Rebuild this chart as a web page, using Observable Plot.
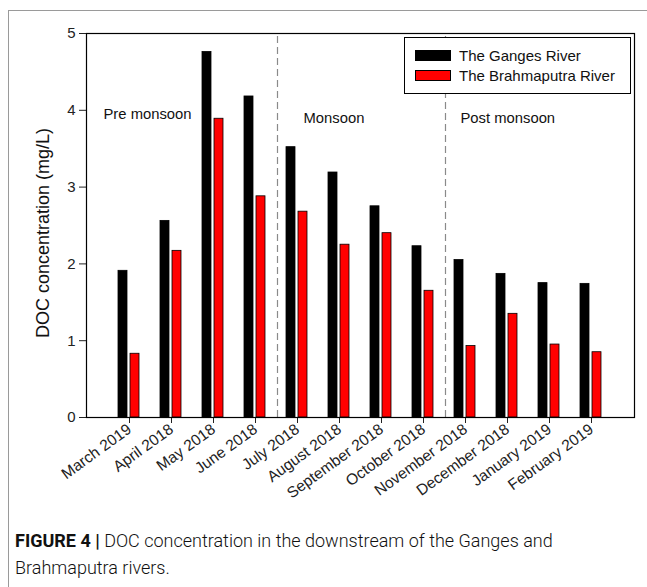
<!DOCTYPE html>
<html>
<head>
<meta charset="utf-8">
<script src="https://cdn.jsdelivr.net/npm/d3@7"></script>
<script src="https://cdn.jsdelivr.net/npm/@observablehq/plot@0.6"></script>
<style>
  body { margin: 0; background: #fff; }
  #fig { position: relative; width: 647px; height: 587px; overflow: hidden; font-family: "Liberation Sans", Arial, sans-serif; background: #fff; }
  #border { position: absolute; left: 8px; top: 10px; width: 700px; height: 700px; border-top: 1.5px solid #9a9a9a; border-left: 1.5px solid #9a9a9a; }
  #chart { position: absolute; left: 0; top: 0; }
  #ylabel { position: absolute; left: 43px; top: 233px; transform: translate(-50%, -50%) rotate(-90deg); white-space: nowrap; font-size: 18px; color: #111; }
  #legend { position: absolute; left: 404px; top: 37px; width: 227px; height: 57px; border: 1px solid #000; background: #fff; box-sizing: border-box; }
  .row { position: absolute; left: 10px; display: flex; align-items: center; font-size: 15px; color: #111; }
  .sw { width: 34px; height: 9px; border: 1px solid #000; margin-right: 8px; }
  #caption { position: absolute; left: 15px; top: 527px; font-family: Roboto, "Liberation Sans", sans-serif; font-weight: 300; font-size: 18px; line-height: 27px; color: #111; }
  #caption b { font-weight: 700; }
</style>
</head>
<body>
<div id="fig">
  <div id="border"></div>
  <div id="chart"></div>
  <div id="ylabel">DOC concentration (mg/L)</div>
  <div id="legend"></div>
  <div id="caption"><b>FIGURE 4 |</b> DOC concentration in the downstream of the Ganges and<br>Brahmaputra rivers.</div>
</div>
<script>
// Sampling months, in the order they are plotted
const months = ["March 2019", "April 2018", "May 2018", "June 2018", "July 2018", "August 2018",
  "September 2018", "October 2018", "November 2018", "December 2018", "January 2019", "February 2019"];
// DOC concentration (mg/L)
const ganges = [1.91, 2.56, 4.76, 4.18, 3.52, 3.19, 2.75, 2.23, 2.05, 1.87, 1.75, 1.74];
const brahmaputra = [0.83, 2.17, 3.89, 2.88, 2.68, 2.25, 2.40, 1.65, 0.93, 1.35, 0.95, 0.85];
const rivers = ["The Ganges River", "The Brahmaputra River"];
const riverColors = ["#000000", "#ff0000"];
// Seasons and the month each one begins with
const seasons = ["Pre monsoon", "Monsoon", "Post monsoon"];
const seasonStarts = ["March 2019", "July 2018", "November 2018"];
const yTicks = [0, 1, 2, 3, 4, 5];

const gangesRows = months.map((m, i) => ({month: m, doc: ganges[i]}));
const brahmaputraRows = months.map((m, i) => ({month: m, doc: brahmaputra[i]}));

const font = '"Liberation Sans", Arial, sans-serif';

const chart = Plot.plot({
  width: 647,
  height: 520,
  marginLeft: 86,
  marginRight: 13,
  marginTop: 33,
  marginBottom: 103,
  style: {fontFamily: font, color: "#222", background: "transparent"},
  x: {type: "band", domain: months, paddingInner: 0, paddingOuter: 0.5},
  y: {domain: [0, 5]},
  marks: [
    // season boundaries sit between the last month of one season and the first of the next
    Plot.ruleX(seasonStarts.slice(1), {y1: 0, y2: 5, dx: -20, stroke: "#8a8a8a", strokeWidth: 1.2, strokeDasharray: "7,4"}),
    Plot.barY(gangesRows, {x: "month", y: "doc", fill: riverColors[0], stroke: "#000", strokeWidth: 0.8, insetLeft: 10, insetRight: 23}),
    Plot.barY(brahmaputraRows, {x: "month", y: "doc", fill: riverColors[1], stroke: "#000", strokeWidth: 0.8, insetLeft: 22, insetRight: 11}),
    Plot.text([seasons[0]], {x: [seasonStarts[0]], y: 3.95, text: d => d, textAnchor: "start", dx: -26, fontSize: 14.8, fill: "#111"}),
    Plot.text([seasons[1]], {x: [seasonStarts[1]], y: 3.9, text: d => d, textAnchor: "start", dx: 6, fontSize: 14.8, fill: "#111"}),
    Plot.text([seasons[2]], {x: [seasonStarts[2]], y: 3.9, text: d => d, textAnchor: "start", dx: -5, fontSize: 14.8, fill: "#111"}),
    Plot.axisY({ticks: yTicks, tickFormat: "d", tickSize: 7, tickPadding: 4, fontSize: 15, label: null}),
    Plot.axisX({tickSize: 6, tickPadding: 4, tickRotate: -36, fontSize: 15.5, label: null}),
    Plot.frame({stroke: "#000", strokeWidth: 1.2})
  ]
});
document.getElementById("chart").appendChild(chart);

// legend
const legend = document.getElementById("legend");
rivers.forEach((name, i) => {
  const row = document.createElement("div");
  row.className = "row";
  row.style.top = (9 + i * 20) + "px";
  const sw = document.createElement("div");
  sw.className = "sw";
  sw.style.background = riverColors[i];
  row.appendChild(sw);
  row.appendChild(document.createTextNode(name));
  legend.appendChild(row);
});
</script>
</body>
</html>
